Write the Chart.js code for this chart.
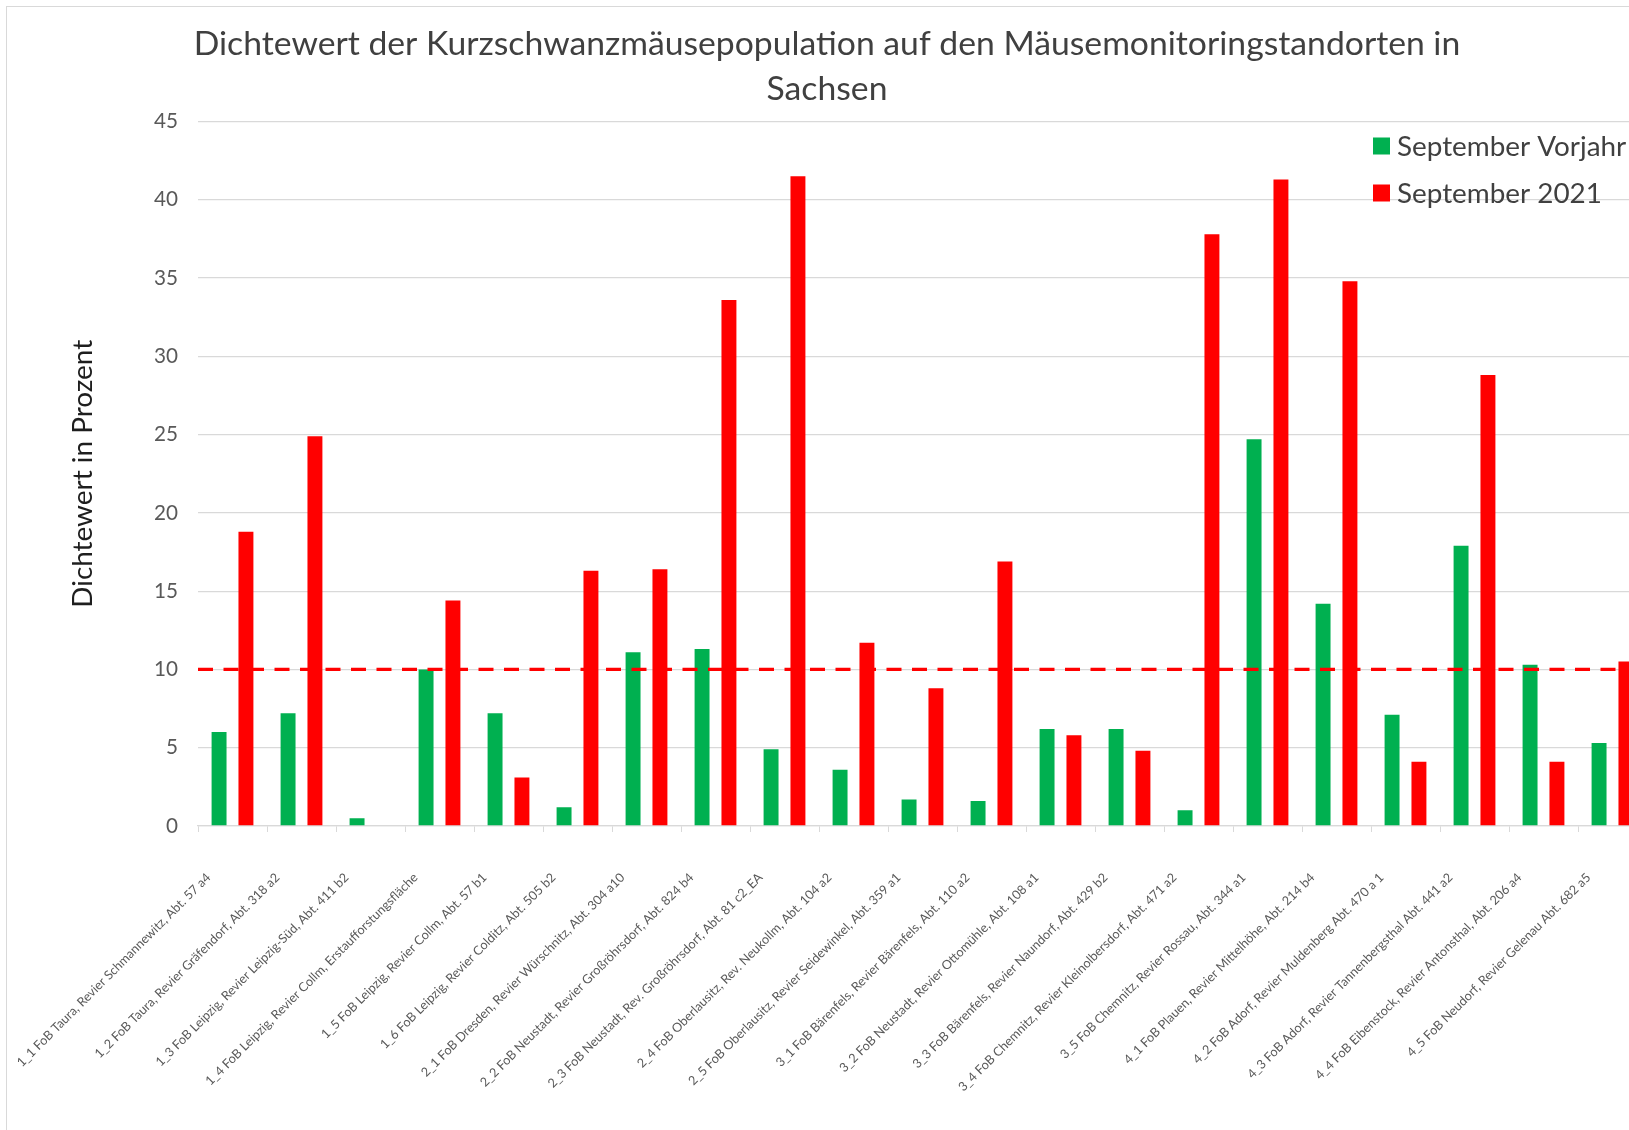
<!DOCTYPE html>
<html>
<head>
<meta charset="utf-8">
<title>Dichtewert der Kurzschwanzmäusepopulation</title>
<script src="https://cdn.jsdelivr.net/npm/chart.js@4.4.0/dist/chart.umd.min.js"></script>
<style>
  html, body { margin: 0; padding: 0; background: #ffffff; overflow: hidden; width: 1629px; height: 1130px; }
  #wrap { position: absolute; left: 6px; top: 6px; width: 1640px; height: 1160px; border: 1px solid #d9d9d9; background: #ffffff; }
  canvas { display: block; }
</style>
</head>
<body>
<div id="wrap"><canvas id="chart" width="1640" height="1160"></canvas></div>
<script>
// ---------- data ----------
const categories = [
  '1_1 FoB Taura, Revier Schmannewitz, Abt. 57 a4',
  '1_2 FoB Taura, Revier Gräfendorf, Abt. 318 a2',
  '1_3 FoB Leipzig, Revier Leipzig-Süd, Abt. 411 b2',
  '1_4 FoB Leipzig, Revier Collm, Erstaufforstungsfläche',
  '1_5 FoB Leipzig, Revier Collm, Abt. 57 b1',
  '1_6 FoB Leipzig, Revier Colditz, Abt. 505 b2',
  '2_1 FoB Dresden, Revier Würschnitz, Abt. 304 a10',
  '2_2 FoB Neustadt, Revier Großröhrsdorf, Abt. 824 b4',
  '2_3 FoB Neustadt, Rev. Großröhrsdorf, Abt. 81 c2_EA',
  '2_4 FoB Oberlausitz, Rev. Neukollm, Abt. 104 a2',
  '2_5 FoB Oberlausitz, Revier Seidewinkel, Abt. 359 a1',
  '3_1 FoB Bärenfels, Revier Bärenfels, Abt. 110 a2',
  '3_2 FoB Neustadt, Revier Ottomühle, Abt. 108 a1',
  '3_3 FoB Bärenfels, Revier Naundorf, Abt. 429 b2',
  '3_4 FoB Chemnitz, Revier Kleinolbersdorf, Abt. 471 a2',
  '3_5 FoB Chemnitz, Revier Rossau, Abt. 344 a1',
  '4_1 FoB Plauen, Revier Mittelhöhe, Abt. 214 b4',
  '4_2 FoB Adorf, Revier Muldenberg Abt. 470 a 1',
  '4_3 FoB Adorf, Revier Tannenbergsthal Abt. 441 a2',
  '4_4 FoB Eibenstock, Revier Antonsthal, Abt. 206 a4',
  '4_5 FoB Neudorf, Revier Gelenau Abt. 682 a5'
];
const septemberVorjahr = [6.0, 7.2, 0.5, 10.0, 7.2, 1.2, 11.1, 11.3, 4.9, 3.6, 1.7, 1.6, 6.2, 6.2, 1.0, 24.7, 14.2, 7.1, 17.9, 10.3, 5.3];
const september2021   = [18.8, 24.9, 0, 14.4, 3.1, 16.3, 16.4, 33.6, 41.5, 11.7, 8.8, 16.9, 5.8, 4.8, 37.8, 41.3, 34.8, 4.1, 28.8, 4.1, 10.5];
const seriesNames = ['September Vorjahr', 'September 2021'];
const titleLines = ['Dichtewert der Kurzschwanzmäusepopulation auf den Mäusemonitoringstandorten in', 'Sachsen'];
const yAxisTitle = 'Dichtewert in Prozent';
const yMin = 0, yMax = 45, yStep = 5;
const thresholdValue = 10;

// ---------- styling helpers ----------
const FAMILY = 'Lato';
function fitSize(text, target) {
  const c = document.createElement('canvas').getContext('2d');
  c.font = '100px ' + FAMILY;
  return 100 * target / c.measureText(text).width;
}
const titleSize  = fitSize(titleLines[0], 1267);
const legendSize = fitSize(seriesNames[1], 205);
const xTickSize  = fitSize(categories[0], 268);
const yTickSize  = fitSize('30', 24);
const yTitleSize = fitSize(yAxisTitle, 268);

const CANVAS_H = 1160;
const PLOT_LEFT = 191, PLOT_BOTTOM = 819;
const GREEN = '#00B050', RED = '#FF0000';

const thresholdLine = {
  id: 'thresholdLine',
  afterDatasetsDraw(chart) {
    const { ctx, chartArea, scales } = chart;
    const py = scales.y.getPixelForValue(thresholdValue);
    ctx.save();
    ctx.strokeStyle = RED;
    ctx.lineWidth = 3.2;
    ctx.setLineDash([15, 10.5]);
    ctx.beginPath();
    ctx.moveTo(chartArea.left, py);
    ctx.lineTo(chartArea.right, py);
    ctx.stroke();
    ctx.restore();
  }
};

const legendBox = {
  id: 'legendBox',
  afterDraw(chart) {
    const ctx = chart.ctx;
    ctx.save();
    chart.data.datasets.forEach((ds, i) => {
      const cy = 139 + i * 47;
      ctx.fillStyle = ds.backgroundColor;
      ctx.fillRect(1366, cy - 8.5, 17, 17);
      ctx.fillStyle = '#404040';
      ctx.font = legendSize.toFixed(2) + 'px ' + FAMILY;
      ctx.textBaseline = 'middle';
      ctx.textAlign = 'left';
      ctx.fillText(ds.label, 1390, cy + 1);
    });
    ctx.restore();
  }
};

const yTitleLH = yTitleSize * 1.2;

new Chart(document.getElementById('chart'), {
  type: 'bar',
  data: {
    labels: categories,
    datasets: [
      { label: seriesNames[0], data: septemberVorjahr, backgroundColor: GREEN, borderWidth: 0,
        categoryPercentage: 0.779, barPercentage: 0.556 },
      { label: seriesNames[1], data: september2021, backgroundColor: RED, borderWidth: 0,
        categoryPercentage: 0.779, barPercentage: 0.556 }
    ]
  },
  options: {
    responsive: false,
    animation: false,
    devicePixelRatio: 1,
    layout: { padding: { left: 0, right: 0, top: 0, bottom: 0 } },
    plugins: {
      legend: { display: false },
      tooltip: { enabled: false },
      title: {
        display: true,
        text: titleLines,
        color: '#404040',
        font: { family: FAMILY, size: titleSize, weight: 'normal', lineHeight: '45px' },
        padding: { top: 14.5, bottom: 10 }
      }
    },
    scales: {
      x: {
        offset: true,
        grid: { display: true, drawOnChartArea: false, drawTicks: true, tickLength: 6, color: '#d9d9d9', offset: true },
        border: { display: true, color: '#d9d9d9', width: 1.3 },
        ticks: {
          autoSkip: false, minRotation: 45, maxRotation: 45,
          color: '#595959', font: { family: FAMILY, size: xTickSize },
          padding: 38, labelOffset: -24
        },
        afterFit(scale) {
          scale.height = CANVAS_H - PLOT_BOTTOM;
          scale.paddingLeft = 0;
          scale.paddingRight = 0;
        }
      },
      y: {
        min: yMin, max: yMax,
        grid: { color: '#d9d9d9', lineWidth: 1.3, drawTicks: false },
        border: { display: false },
        ticks: { stepSize: yStep, color: '#595959', font: { family: FAMILY, size: yTickSize }, padding: 20 },
        title: {
          display: true, text: yAxisTitle, color: '#1e1e1e',
          font: { family: FAMILY, size: yTitleSize, lineHeight: 1.2 },
          padding: { top: 76 - yTitleLH / 2, bottom: 0 }
        },
        afterFit(scale) { scale.width = PLOT_LEFT; }
      }
    }
  },
  plugins: [thresholdLine, legendBox]
});
</script>
</body>
</html>
